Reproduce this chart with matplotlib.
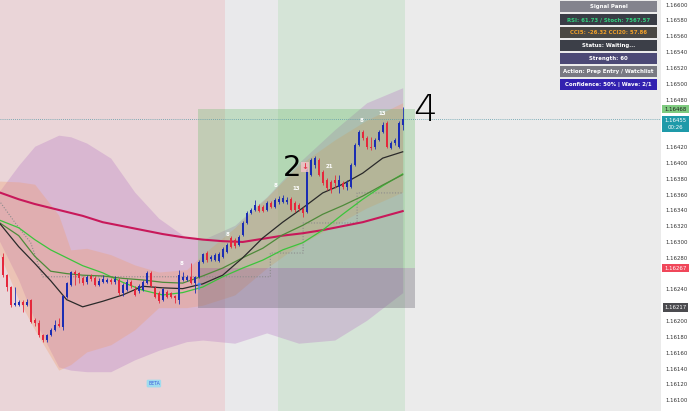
import numpy as np
import matplotlib.pyplot as plt
import matplotlib.transforms as mtransforms
from matplotlib.patches import Rectangle
from matplotlib.ticker import FixedLocator, FormatStrFormatter

# candle data (EURUSD-like, one bar per index)
opens = [
    1.16281, 1.16258, 1.16243, 1.16220, 1.16220, 1.16224, 1.16220, 1.16227, 1.16201, 1.16198,
    1.16182, 1.16176, 1.16182, 1.16189, 1.16196, 1.16193, 1.16230, 1.16246, 1.16262, 1.16261,
    1.16254, 1.16249, 1.16257, 1.16254, 1.16246, 1.16249, 1.16249, 1.16252, 1.16249, 1.16252,
    1.16236, 1.16239, 1.16249, 1.16239, 1.16238, 1.16239, 1.16248, 1.16261, 1.16242, 1.16236,
    1.16227, 1.16237, 1.16236, 1.16232, 1.16227, 1.16252, 1.16252, 1.16256, 1.16248, 1.16256,
    1.16275, 1.16286, 1.16279, 1.16277, 1.16276, 1.16281, 1.16287, 1.16305, 1.16303, 1.16296,
    1.16309, 1.16324, 1.16337, 1.16340, 1.16346, 1.16344, 1.16340, 1.16349, 1.16344, 1.16351,
    1.16351, 1.16351, 1.16354, 1.16349, 1.16347, 1.16342, 1.16338, 1.16385, 1.16397, 1.16404,
    1.16388, 1.16378, 1.16376, 1.16378, 1.16370, 1.16375, 1.16370, 1.16370, 1.16397, 1.16423,
    1.16439, 1.16431, 1.16420, 1.16420, 1.16429, 1.16439, 1.16450, 1.16419, 1.16425, 1.16420,
    1.16448]
highs = [
    1.16286, 1.16260, 1.16244, 1.16243, 1.16227, 1.16227, 1.16228, 1.16228, 1.16204, 1.16201,
    1.16184, 1.16184, 1.16191, 1.16201, 1.16204, 1.16233, 1.16249, 1.16263, 1.16265, 1.16262,
    1.16257, 1.16258, 1.16260, 1.16257, 1.16254, 1.16258, 1.16254, 1.16254, 1.16257, 1.16254,
    1.16248, 1.16253, 1.16252, 1.16244, 1.16247, 1.16252, 1.16263, 1.16263, 1.16244, 1.16238,
    1.16242, 1.16239, 1.16237, 1.16233, 1.16265, 1.16262, 1.16258, 1.16273, 1.16257, 1.16277,
    1.16286, 1.16289, 1.16284, 1.16286, 1.16287, 1.16294, 1.16299, 1.16308, 1.16305, 1.16309,
    1.16327, 1.16339, 1.16343, 1.16353, 1.16348, 1.16347, 1.16352, 1.16352, 1.16356, 1.16358,
    1.16359, 1.16357, 1.16357, 1.16352, 1.16349, 1.16344, 1.16394, 1.16406, 1.16409, 1.16406,
    1.16391, 1.16381, 1.16378, 1.16385, 1.16385, 1.16377, 1.16378, 1.16400, 1.16425, 1.16442,
    1.16442, 1.16434, 1.16433, 1.16432, 1.16442, 1.16452, 1.16453, 1.16428, 1.16432, 1.16453,
    1.16471]
lows = [
    1.16256, 1.16238, 1.16218, 1.16219, 1.16219, 1.16212, 1.16219, 1.16198, 1.16194, 1.16180,
    1.16174, 1.16174, 1.16181, 1.16188, 1.16193, 1.16189, 1.16229, 1.16244, 1.16246, 1.16248,
    1.16246, 1.16247, 1.16251, 1.16244, 1.16244, 1.16248, 1.16248, 1.16247, 1.16247, 1.16233,
    1.16232, 1.16238, 1.16242, 1.16232, 1.16236, 1.16238, 1.16247, 1.16243, 1.16229, 1.16223,
    1.16225, 1.16229, 1.16229, 1.16223, 1.16222, 1.16251, 1.16251, 1.16247, 1.16236, 1.16254,
    1.16273, 1.16275, 1.16276, 1.16276, 1.16275, 1.16280, 1.16286, 1.16292, 1.16292, 1.16295,
    1.16308, 1.16323, 1.16335, 1.16339, 1.16338, 1.16338, 1.16339, 1.16343, 1.16343, 1.16348,
    1.16349, 1.16348, 1.16339, 1.16338, 1.16339, 1.16332, 1.16337, 1.16383, 1.16393, 1.16383,
    1.16372, 1.16366, 1.16362, 1.16368, 1.16362, 1.16367, 1.16366, 1.16368, 1.16396, 1.16421,
    1.16429, 1.16417, 1.16416, 1.16417, 1.16428, 1.16438, 1.16419, 1.16417, 1.16423, 1.16419,
    1.16442]
closes = [
    1.16258, 1.16243, 1.16220, 1.16223, 1.16224, 1.16220, 1.16224, 1.16199, 1.16198, 1.16182,
    1.16176, 1.16182, 1.16189, 1.16195, 1.16194, 1.16232, 1.16248, 1.16262, 1.16260, 1.16254,
    1.16248, 1.16256, 1.16253, 1.16246, 1.16251, 1.16253, 1.16252, 1.16249, 1.16253, 1.16236,
    1.16246, 1.16249, 1.16244, 1.16233, 1.16244, 1.16249, 1.16261, 1.16244, 1.16230, 1.16225,
    1.16241, 1.16230, 1.16230, 1.16229, 1.16258, 1.16256, 1.16256, 1.16248, 1.16256, 1.16275,
    1.16285, 1.16277, 1.16281, 1.16284, 1.16285, 1.16291, 1.16296, 1.16294, 1.16295, 1.16306,
    1.16324, 1.16337, 1.16340, 1.16347, 1.16339, 1.16339, 1.16349, 1.16344, 1.16353, 1.16354,
    1.16356, 1.16353, 1.16340, 1.16340, 1.16342, 1.16337, 1.16391, 1.16404, 1.16406, 1.16385,
    1.16374, 1.16368, 1.16366, 1.16374, 1.16378, 1.16370, 1.16374, 1.16397, 1.16423, 1.16439,
    1.16431, 1.16420, 1.16419, 1.16429, 1.16439, 1.16448, 1.16420, 1.16425, 1.16429, 1.16450,
    1.16455]

# volatility clouds, sampled at these bar indices
band_x = [-1, 4, 8, 14, 17, 21, 27, 33, 39, 46, 50, 58, 66, 74, 83, 91, 100]
outer_hi = [1.16363, 1.16397, 1.16421, 1.16435, 1.16433, 1.16425, 1.16406, 1.16363, 1.16330,
            1.16305, 1.16303, 1.16321, 1.16357, 1.16400, 1.16442, 1.16476, 1.16495]
outer_lo = [1.16303, 1.16252, 1.16201, 1.16142, 1.16138, 1.16136, 1.16136, 1.16151, 1.16163,
            1.16174, 1.16176, 1.16172, 1.16185, 1.16172, 1.16176, 1.16201, 1.16236]
inner_hi = [1.16377, 1.16376, 1.16373, 1.16334, 1.16290, 1.16292, 1.16284, 1.16271, 1.16262,
            1.16265, 1.16284, 1.16318, 1.16356, 1.16397, 1.16429, 1.16454, 1.16476]
inner_lo = [1.16287, 1.16227, 1.16189, 1.16138, 1.16145, 1.16161, 1.16170, 1.16189, 1.16217,
            1.16217, 1.16220, 1.16233, 1.16267, 1.16296, 1.16321, 1.16343, 1.16363]

# moving averages, sampled at these bar indices
ma_x = [-1, 4, 8, 12, 16, 20, 25, 30, 35, 40, 45, 50, 55, 60, 65, 70, 75, 80, 85, 90, 95, 100]
ma_slow = [1.16363, 1.16354, 1.16348, 1.16343, 1.16338, 1.16333, 1.16325, 1.16320, 1.16315, 1.16310, 1.16306,
           1.16303, 1.16301, 1.16300, 1.16304, 1.16308, 1.16311, 1.16315, 1.16320, 1.16325, 1.16332, 1.16339]
ma_fast = [1.16325, 1.16294, 1.16273, 1.16251, 1.16227, 1.16218, 1.16225, 1.16233, 1.16244, 1.16242, 1.16241,
           1.16247, 1.16258, 1.16280, 1.16305, 1.16325, 1.16343, 1.16362, 1.16373, 1.16387, 1.16406, 1.16414]
ma_mid = [1.16325, 1.16308, 1.16282, 1.16263, 1.16260, 1.16258, 1.16257, 1.16254, 1.16252, 1.16249, 1.16248,
          1.16257, 1.16267, 1.16280, 1.16292, 1.16309, 1.16321, 1.16335, 1.16346, 1.16358, 1.16372, 1.16385]
ma_signal = [1.16328, 1.16318, 1.16303, 1.16290, 1.16280, 1.16270, 1.16261, 1.16249, 1.16239, 1.16233, 1.16236,
             1.16243, 1.16256, 1.16267, 1.16277, 1.16290, 1.16299, 1.16315, 1.16335, 1.16354, 1.16371, 1.16386]

# trailing stop (dotted)
trail_x = [-1, 3, 7, 10, 66.9, 66.9, 75.1, 75.1, 88.6, 88.6, 100]
trail_y = [1.16353, 1.16325, 1.16299, 1.16256, 1.16256, 1.16286, 1.16286, 1.16324, 1.16324, 1.16362, 1.16362]

# wave count labels
count_x = [44.8, 56.1, 68.3, 73.4, 81.6, 89.8, 94.9]
count_y = [1.16273, 1.16309, 1.16372, 1.16367, 1.16396, 1.16454, 1.16463]
count_txt = ['8', '8', '8', '13', '21', '8', '13']

# sessions (bar index edges)
session_edges = [-2, 55.6, 68.8, 100.6, 170]
session_colors = ['#ead5d8', '#e9e9eb', '#d5e4d7', '#ebebeb']

# long position tool
pos_start, pos_end = 48.8, 103.1
target, entry, stop = 1.16468, 1.16267, 1.16217

panel_rows = ['Signal Panel', 'RSI: 61.73 / Stoch: 7567.57', 'CCI5: -26.32 CCI20: 57.86',
              'Status: Waiting...', 'Strength: 60', 'Action: Prep Entry / Watchlist',
              'Confidence: 50% | Wave: 2/1']
panel_bg = ['#83838d', '#393c45', '#4a4844', '#3c3f48', '#4c4976', '#797982', '#3221b0']
panel_fg = ['white', '#33d17e', '#f2a12a', 'white', 'white', 'white', 'white']

fig = plt.figure(figsize=(6.9, 4.11), dpi=100)
fig.patch.set_facecolor('white')
ax = fig.add_axes([0, 0, 661 / 690, 1])
ax.set_facecolor('#ebebeb')

for k in range(len(session_colors)):
    ax.axvspan(session_edges[k], session_edges[k + 1], color=session_colors[k], lw=0, zorder=0)

ax.fill_between(band_x, outer_lo, outer_hi, color='#b87ac4', alpha=0.33, lw=0, zorder=1)
ax.fill_between(band_x, inner_lo, inner_hi, color='#f39a66', alpha=0.3, lw=0, zorder=1.1)

ax.add_patch(Rectangle((pos_start, entry), pos_end - pos_start, target - entry,
                       color='#5cb85c', alpha=0.28, lw=0, zorder=1.5))
ax.add_patch(Rectangle((pos_start, stop), pos_end - pos_start, entry - stop,
                       color='#66636f', alpha=0.35, lw=0, zorder=1.5))

ax.plot(trail_x, trail_y, color='#8c8c8c', lw=0.8, ls=(0, (1, 1.5)), zorder=2)
ax.plot(ma_x, ma_slow, color='#c8185a', lw=1.5, zorder=2.2)
ax.plot(ma_x, ma_signal, color='#3cc43c', lw=0.9, zorder=2.3)
ax.plot(ma_x, ma_mid, color='#4e8a3a', lw=0.9, zorder=2.3)
ax.plot(ma_x, ma_fast, color='#2a2a2a', lw=0.9, zorder=2.4)

idx = np.arange(len(closes))
o = np.array(opens)
c = np.array(closes)
cols = np.where(c >= o, '#1b2db3', '#e5283c')
ax.vlines(idx, lows, highs, colors=cols, lw=0.6, zorder=4)
ax.bar(idx, c - o, bottom=o, width=0.55, color=cols, lw=0, zorder=4.1)

for x, y, s in zip(count_x, count_y, count_txt):
    ax.text(x, y, s, color='white', fontsize=4, fontweight='bold', ha='center', va='center', zorder=5)

ax.text(48.8, 1.16243, '↑', color='#3d8bfd', fontsize=7, fontweight='bold', ha='center', va='center', zorder=5)
ax.text(75.6, 1.16395, '↓', color='#e53950', fontsize=6, fontweight='bold', ha='center', va='center', zorder=5,
        bbox=dict(boxstyle='square,pad=0.05', fc='#f3c4ca', ec='none', alpha=0.8))
ax.text(72.3, 1.16394, '2', color='black', fontsize=21, ha='center', va='center', zorder=6)
ax.text(105.6, 1.16466, '4', color='black', fontsize=27, fontweight='light', ha='center', va='center', zorder=6)
ax.text(37.8, 1.16121, 'BETA', color='#3b5bdb', fontsize=3.3, ha='center', va='center', zorder=5,
        bbox=dict(boxstyle='round,pad=0.3', fc='#9fdcef', ec='none'))

last = closes[-1]
ax.axhline(last, color='#5a9aa8', lw=0.6, ls=(0, (1, 1.5)), zorder=3)

ax.set_xlim(-0.675, 164.575)
ax.set_ylim(1.160863, 1.166059)
ax.set_xticks([])
ax.yaxis.tick_right()
# scale ticks every 0.0002; the ones under the price tags are hidden, like on the chart
ticks = [round(1.161 + 0.0002 * k, 5) for k in range(26)]
ticks = [t for t in ticks if all(abs(t - p) > 0.0001 for p in (target, entry, stop))
         and not (last - 0.00026 < t < last + 0.0001)]
ax.yaxis.set_major_locator(FixedLocator(ticks))
ax.yaxis.set_major_formatter(FormatStrFormatter('%.5f'))
ax.tick_params(axis='y', length=0, pad=3.2, labelsize=3.9, labelcolor='#333333')
for sp in ax.spines.values():
    sp.set_visible(False)

# price labels on the scale
blend = mtransforms.blended_transform_factory(fig.transFigure, ax.transData)
lx = 675.5 / 690
ax.text(lx, target, '%.5f' % target, transform=blend, fontsize=3.9, color='#1e1e1e', ha='center', va='center',
        clip_on=False, zorder=7, bbox=dict(boxstyle='square,pad=0.35', fc='#7fcb80', ec='none'))
ax.text(lx, last + 0.00002, '%.5f\n00:26' % last, transform=blend, fontsize=3.9, color='white',
        ha='center', va='top', linespacing=1.6, clip_on=False, zorder=8,
        bbox=dict(boxstyle='square,pad=0.4', fc='#1e9aa9', ec='none'))
ax.text(lx, entry, '%.5f' % entry, transform=blend, fontsize=3.9, color='white', ha='center', va='center',
        clip_on=False, zorder=7, bbox=dict(boxstyle='square,pad=0.35', fc='#f0475a', ec='none'))
ax.text(lx, stop, '%.5f' % stop, transform=blend, fontsize=3.9, color='white', ha='center', va='center',
        clip_on=False, zorder=7, bbox=dict(boxstyle='square,pad=0.35', fc='#4b4b4f', ec='none'))

# signal panel
pax = fig.add_axes([560 / 690, 1 - 91 / 411, 97 / 690, 91 / 411])
pax.set_xlim(0, 1)
pax.set_ylim(len(panel_rows), 0)
pax.axis('off')
for r, (txt, bg, fg) in enumerate(zip(panel_rows, panel_bg, panel_fg)):
    pax.add_patch(Rectangle((0, r + 0.04), 1, 0.92, color=bg, lw=0))
    pax.text(0.5, r + 0.52, txt, color=fg, fontsize=3.85, fontweight='bold', ha='center', va='center')

fig.savefig('out.png', dpi=100)
